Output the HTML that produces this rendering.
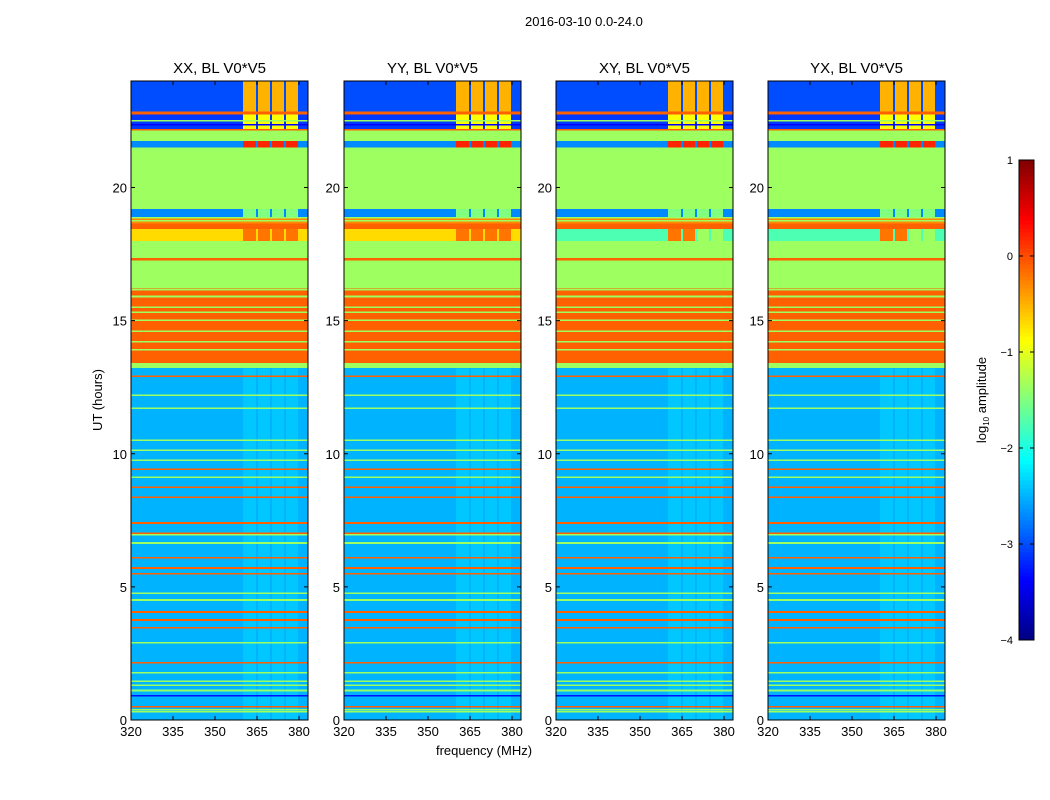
<!DOCTYPE html>
<html><head><meta charset="utf-8">
<style>
body{margin:0;background:#fff;font-family:"Liberation Sans",sans-serif;}
#wrap{position:relative;width:1050px;height:800px;overflow:hidden;}
.t{position:absolute;font-size:13px;color:#000;white-space:nowrap;}
</style></head>
<body>
<div id="wrap">
<div class="t" style="left:525px;top:14px;font-size:13px;">2016-03-10 0.0-24.0</div>
<svg id="svg" width="1050" height="800" style="position:absolute;left:0;top:0"></svg>
</div>
<script>
// data
const panelTitles = ["XX, BL V0*V5","YY, BL V0*V5","XY, BL V0*V5","YX, BL V0*V5"];
const xTicks = [320,335,350,365,380];
const yTicks = [0,5,10,15,20];
const cbTicks = [1,0,-1,-2,-3,-4];
// base bands: [startHour, endHour, log10 amplitude]
const bandStart = [0,13.25,13.4,16.2,17.25,17.35,18.0,18.45,18.65,18.9,19.2,21.5,21.75,22.05,22.15,22.2,22.75,22.85];
const bandEnd   = [13.25,13.4,16.2,17.25,17.35,18.0,18.45,18.65,18.9,19.2,21.5,21.75,22.05,22.15,22.2,22.75,22.85,24];
const bandVal   = [-2.5,-1.35,-0.1,-1.35,-0.1,-1.35,-0.7,-0.1,-0.3,-2.7,-1.35,-2.7,-1.35,-1.35,-0.1,-3.1,-0.1,-3.0];
// per-panel value of the 18.0-18.45 band
const band18Val = [-0.7,-0.7,-1.75,-1.75];
// full-width lines inside bands: hour, value
const lineHour = [12.9,9.41,8.74,8.36,7.39,7.01,6.08,5.7,5.48,4.05,3.75,3.45,2.14,0.49,
                  13.24,12.19,11.7,10.5,10.13,9.75,9.11,6.95,6.64,4.76,4.5,2.89,1.76,1.45,1.3,1.1,0.9,0.3,0.38,
                  15.9,15.5,15.3,15.0,14.6,14.2,13.9,16.15,18.75,18.85,22.5,22.35];
const lineVal  = [-0.1,-0.1,-0.1,-0.1,-0.1,-0.1,-0.1,-0.1,-0.1,-0.1,-0.1,-0.1,-0.1,-0.1,
                  -1.35,-1.35,-1.35,-1.35,-1.35,-1.35,-1.35,-1.35,-1.35,-1.35,-1.35,-1.35,-1.35,-1.35,-1.35,-1.4,-3.3,-1.35,-1.35,
                  -1.35,-1.35,-1.35,-1.35,-1.35,-1.35,-1.35,-1.35,-1.35,-1.35,-1.35,-3.4];
// RFI columns (MHz)
const colStart = [360,365.4,370.4,375.4];
const colEnd   = [364.6,369.6,374.6,379.6];
// column overlays: [startHour,endHour,value]
const colBandStart = [0,18.0,18.9,21.5,22.2,22.85];
const colBandEnd   = [13.2,18.45,19.2,21.75,22.75,24];
const colBandVal   = [-2.4,-0.2,-1.5,0.2,-0.9,-0.5];

const X0=320, X1=383.2, Y0=0, Y1=24;
const panelLeft=[131,344,556,768], panelW=177, plotTop=81, plotBottom=720;
const NS="http://www.w3.org/2000/svg";
const svg=document.getElementById('svg');

function jet(v){ // v in [-4,1]
  let t=(v+4)/5; t=Math.max(0,Math.min(1,t));
  const f=(a)=>Math.max(0,Math.min(1,1.5-Math.abs(4*t-a)));
  return `rgb(${Math.round(255*f(3))},${Math.round(255*f(2))},${Math.round(255*f(1))})`;
}
function mk(tag,attrs,parent){const e=document.createElementNS(NS,tag);for(const k in attrs)e.setAttribute(k,attrs[k]);(parent||svg).appendChild(e);return e;}
function txt(s,x,y,anchor,size,parent){const e=mk('text',{x:x,y:y,'text-anchor':anchor,'font-size':size,'font-family':'Liberation Sans, sans-serif'},parent);e.textContent=s;return e;}

panelTitles.forEach((title,p)=>{
  const L=panelLeft[p];
  const xs=f=>L+(f-X0)/(X1-X0)*panelW;
  const ys=h=>plotBottom-(h-Y0)/(Y1-Y0)*(plotBottom-plotTop);
  const g=mk('g',{});
  
  
  const hm=mk('g',{'shape-rendering':'crispEdges'},g);
  
  
  bandStart.forEach((s,i)=>{
    let v=bandVal[i]; if(s===18.0) v=band18Val[p];
    const r=mk('rect',{x:L,y:ys(bandEnd[i]),width:panelW,height:ys(s)-ys(bandEnd[i]),fill:jet(v)},hm);
    
    
  });
  colStart.forEach((c,j)=>{
    colBandStart.forEach((s,k)=>{
      let v=colBandVal[k];
      if(p>=2 && s===18.0 && j>=2) v=-1.35;
      const r=mk('rect',{x:xs(c),y:ys(colBandEnd[k]),width:xs(colEnd[j])-xs(c),height:ys(s)-ys(colBandEnd[k]),fill:jet(v)},hm);
      
      
    });
  });
  lineHour.forEach((h,i)=>{
    const r=mk('rect',{x:L,y:ys(h)-1,width:panelW,height:1.6,fill:jet(lineVal[i])},hm);
    
    
  });
  const fr=mk('rect',{x:L,y:plotTop,width:panelW,height:plotBottom-plotTop,fill:'none',stroke:'#000','stroke-width':1},g);
  
  
  xTicks.forEach(t=>{
    mk('line',{x1:xs(t),x2:xs(t),y1:plotBottom,y2:plotBottom-4,stroke:'#000'},g);
    mk('line',{x1:xs(t),x2:xs(t),y1:plotTop,y2:plotTop+4,stroke:'#000'},g);
    const e=txt(String(t),xs(t),plotBottom+16,'middle',13,g);
    
    
  });
  yTicks.forEach(t=>{
    mk('line',{x1:L,x2:L+4,y1:ys(t),y2:ys(t),stroke:'#000'},g);
    mk('line',{x1:L+panelW,x2:L+panelW-4,y1:ys(t),y2:ys(t),stroke:'#000'},g);
    const e=txt(String(t),L-4,ys(t)+5,'end',13,g);
    
    
  });
  const tt=txt(title,L+panelW/2,73,'middle',15,g);
  
  
});
const yl=txt('UT (hours)',0,0,'middle',13);
yl.setAttribute('transform','translate(102,400) rotate(-90)');


const xl=txt('frequency (MHz)',484,755,'middle',13);



// colorbar
const cb=mk('g',{});


const cbT=160,cbB=640,cbL=1019,cbW=15;
const cys=v=>cbB-(v+4)/5*(cbB-cbT);
for(let i=0;i<120;i++){
  const v0=-4+5*i/120, v1=-4+5*(i+1)/120;
  mk('rect',{x:cbL,y:cys(v1),width:cbW,height:cys(v0)-cys(v1)+0.5,fill:jet((v0+v1)/2)},cb);
}
mk('rect',{x:cbL,y:cbT,width:cbW,height:cbB-cbT,fill:'none',stroke:'#000'},cb);
cbTicks.forEach(t=>{
  mk('line',{x1:cbL,x2:cbL+4,y1:cys(t),y2:cys(t),stroke:'#000'},cb);
  mk('line',{x1:cbL+cbW,x2:cbL+cbW-4,y1:cys(t),y2:cys(t),stroke:'#000'},cb);
  const e=txt(t<0?'\u2212'+(-t):String(t),1013,cys(t)+4,'end',11,cb);
  
  
});
const cl=mk('text',{'text-anchor':'middle','font-size':13,'font-family':'Liberation Sans, sans-serif',transform:'translate(986,400) rotate(-90)'},cb);
cl.innerHTML='log<tspan font-size="8" dy="3">10</tspan><tspan dy="-3"> amplitude</tspan>';


</script>
</body></html>
